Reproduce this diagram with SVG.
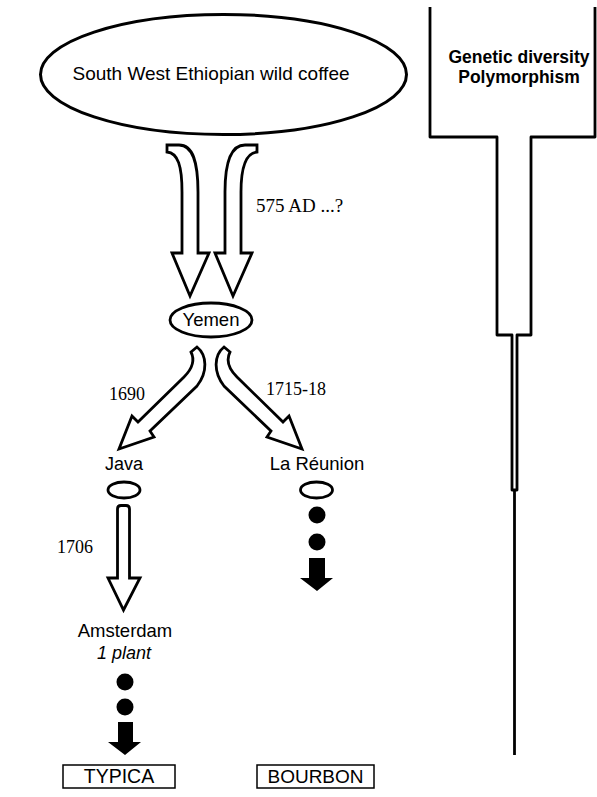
<svg xmlns="http://www.w3.org/2000/svg" width="597" height="797" viewBox="0 0 597 797">
<style>
.o{fill:none;stroke:#000;stroke-width:2.8;stroke-linejoin:round}
.w{fill:#fff;stroke:#000;stroke-width:2.8;stroke-linejoin:miter}
.b{fill:#000;stroke:none}
.s{font-family:"Liberation Sans",Arial,sans-serif;font-size:18px;fill:#000}
.r{font-family:"Liberation Serif","Times New Roman",serif;font-size:18px;fill:#000}
.bx{fill:#fff;stroke:#000;stroke-width:1.5}
</style>
<rect width="597" height="797" fill="#fff"/>
<g id="ethiopia">
<ellipse cx="223.5" cy="74.5" rx="183" ry="60" class="o" style="stroke-width:3"/>
<text x="211" y="80" class="s" style="font-size:19px" text-anchor="middle">South West Ethiopian wild coffee</text>
</g>
<g id="yemen">
<ellipse cx="211" cy="320" rx="41" ry="17" class="o"/>
<text x="211" y="326" class="s" style="font-size:18.5px" text-anchor="middle">Yemen</text>
</g>
<g id="java">
<text x="124" y="470" class="s" text-anchor="middle">Java</text>
<ellipse cx="124" cy="490" rx="16" ry="8" class="o"/>
</g>
<g id="reunion">
<text x="317" y="470" class="s" style="font-size:18.5px" text-anchor="middle">La Réunion</text>
<ellipse cx="316.5" cy="490" rx="16" ry="8" class="o"/>
</g>
<g id="amsterdam">
<text x="125" y="637" class="s" style="font-size:18.5px" text-anchor="middle">Amsterdam</text>
<text x="124" y="659" class="s" font-style="italic" text-anchor="middle">1 plant</text>
</g>
<g id="typica">
<rect x="63" y="765" width="112" height="23" class="bx"/>
<text x="119" y="783" class="s" style="font-size:19.5px" text-anchor="middle">TYPICA</text>
</g>
<g id="bourbon">
<rect x="257" y="765" width="117" height="23" class="bx"/>
<text x="315.5" y="783" class="s" style="font-size:19px" text-anchor="middle">BOURBON</text>
</g>
<g id="diversity">
<path d="M430 7 L430 137 L497 137 L497 335 L512 335 L512 490 L517 490 L517 335 L531 335 L531 137 L595 137 L595 7" class="o" stroke-linejoin="miter"/>
<line x1="514.5" y1="490" x2="514.5" y2="755" stroke="#000" stroke-width="2.8"/>
<text x="519" y="63" class="s" style="font-size:17.5px" font-weight="bold" text-anchor="middle">Genetic diversity</text>
<text x="519" y="83" class="s" style="font-size:17.5px" font-weight="bold" text-anchor="middle">Polymorphism</text>
</g>
<g id="connectors">
<path class="w" d="M182 253 L182 192 C182 166 178 153 167 152 L167 145 L179 145 C193 145 198 162 198 192 L198 253 L209 253 L190 296 L172 253 Z"/>
<path class="w" d="M225 253 L225 192 C225 162 231 145 245 145 L257 145 L257 152 C246 153 241 166 241 192 L241 253 L252 253 L233 296 L215 253 Z"/>
<text x="256" y="212" class="r" style="font-size:19px">575 AD ...?</text>
<path class="w" d="M191 352 L197 347 C207 355 208 372 197 386 L150 431 L154 437 L119 449 L132 416 L138 422 L184 377 C192 369 195 360 191 352 Z"/>
<text x="109" y="400" class="r">1690</text>
<path class="w" d="M230 352 L224 347 C214 355 213 372 224 386 L271 431 L267 437 L302 449 L289 416 L283 422 L237 377 C229 369 226 360 230 352 Z"/>
<text x="266" y="395" class="r">1715-18</text>
<path class="w" d="M117.5 578 L117.5 509 Q117.5 505.5 121 505.5 L126 505.5 Q129.5 505.5 129.5 509 L129.5 578 L140 578 L123.5 610 L108 578 Z"/>
<text x="57" y="553" class="r">1706</text>
<circle cx="317" cy="515" r="8.5" class="b"/>
<circle cx="317" cy="542" r="8.5" class="b"/>
<path class="b" d="M309 558 L325 558 L325 578 L333 578 L317 591 L300 578 L309 578 Z"/>
<circle cx="125" cy="682" r="8.5" class="b"/>
<circle cx="125" cy="707" r="8.5" class="b"/>
<path class="b" d="M118 722 L133 722 L133 742 L141 742 L125 755 L108 742 L118 742 Z"/>
</g>
</svg>
